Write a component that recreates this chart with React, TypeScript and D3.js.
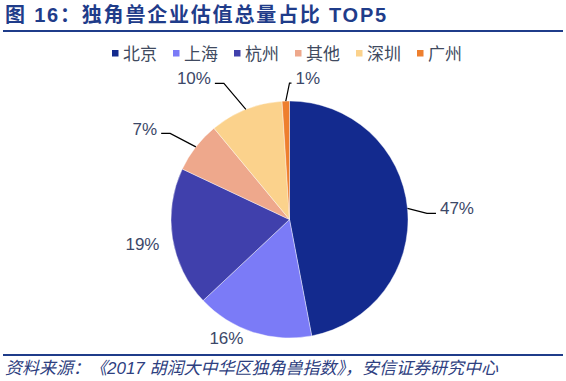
import React from "react";
import * as d3 from "d3";

const categories = ["北京", "上海", "杭州", "其他", "深圳", "广州"];
const values = [47, 16, 19, 7, 10, 1];
const labels = ["47%", "16%", "19%", "7%", "10%", "1%"];
const colors = ["#132A8E", "#7B7BF7", "#4040AC", "#EEA88C", "#FBD28C", "#EE7F2E"];

// layout tweaks: label offset from the slice's outer midpoint
const labelOffsets: [number, number][] = [
  [49.5, 0],
  [-26.5, 6],
  [-30, 5.5],
  [-51, -18.5],
  [-52, -31],
  [22, -23],
];
const hasLeader = [true, false, false, true, true, true];

const W = 566;
const H = 381;
const cx = 289.5;
const cy = 219.5;
const R = 118.5;
const labelFont = 17;
const textColor = "#3C4868";
const navy = "#1F3C8A";

export default function App() {
  const pie = d3.pie<number>().sort(null).value((d) => d);
  const arcs = pie(values);
  const arc = d3.arc<d3.PieArcDatum<number>>().innerRadius(0).outerRadius(R);

  const legendX0 = 112;
  const legendStep = 61;

  return (
    <div style={{ position: "fixed", left: 0, top: 0, width: W, height: H, background: "#fff" }}>
      <svg width={W} height={H} style={{ display: "block" }}>
        <text
          x={5}
          y={21.5}
          fontSize={20}
          fontWeight="bold"
          letterSpacing={1.8}
          fill={navy}
          fontFamily="'Liberation Sans', 'Noto Sans CJK SC', sans-serif"
        >
          图 16：独角兽企业估值总量占比 TOP5
        </text>
        <line x1={3} x2={563} y1={31} y2={31} stroke={navy} strokeWidth={2.2} />

        {/* legend */}
        {categories.map((c, i) => (
          <g key={c} transform={`translate(${legendX0 + i * legendStep},0)`}>
            <rect x={0} y={50} width={6.5} height={6.5} fill={colors[i]} />
            <text
              x={11}
              y={53.5}
              dy="0.36em"
              fontSize={17}
              fill="#404A60"
              fontFamily="'Noto Sans CJK SC', sans-serif"
            >
              {c}
            </text>
          </g>
        ))}

        <g transform={`translate(${cx},${cy})`}>
          {arcs.map((a, i) => (
            <path key={i} d={arc(a) || ""} fill={colors[i]} stroke="#fff" strokeWidth={0.4} />
          ))}
          {arcs.map((a, i) => {
            const mid = (a.startAngle + a.endAngle) / 2;
            const ex = R * Math.sin(mid);
            const ey = -R * Math.cos(mid);
            const lx = ex + labelOffsets[i][0];
            const ly = ey + labelOffsets[i][1];
            const halfW = labels[i].length === 3 ? 17 : 12.3;
            let leader = null;
            if (hasLeader[i]) {
              const side = lx > ex ? -1 : 1;
              const endX = lx + side * (halfW + 4);
              const elbX = endX + side * (labels[i] === "1%" ? 2 : 9);
              const lineY = ly + 5;
              leader = (
                <polyline
                  points={`${ex},${ey} ${elbX},${lineY} ${endX},${lineY}`}
                  fill="none"
                  stroke="#000"
                  strokeWidth={1.2}
                />
              );
            }
            return (
              <g key={"l" + i}>
                {leader}
                <text
                  x={lx}
                  y={ly}
                  dy="0.36em"
                  textAnchor="middle"
                  fontSize={labelFont}
                  fill={textColor}
                  fontFamily="'Liberation Sans', Arial, sans-serif"
                >
                  {labels[i]}
                </text>
              </g>
            );
          })}
        </g>

        <line x1={3} x2={563} y1={355} y2={355} stroke={navy} strokeWidth={2.2} />
        <text
          x={5}
          y={374}
          fontSize={17}
          fontStyle="italic"
          fill="#2E4080"
          fontFamily="'Liberation Sans', 'Noto Sans CJK SC', sans-serif"
        >
          资料来源：《2017 胡润大中华区独角兽指数》，安信证券研究中心
        </text>
      </svg>
    </div>
  );
}
